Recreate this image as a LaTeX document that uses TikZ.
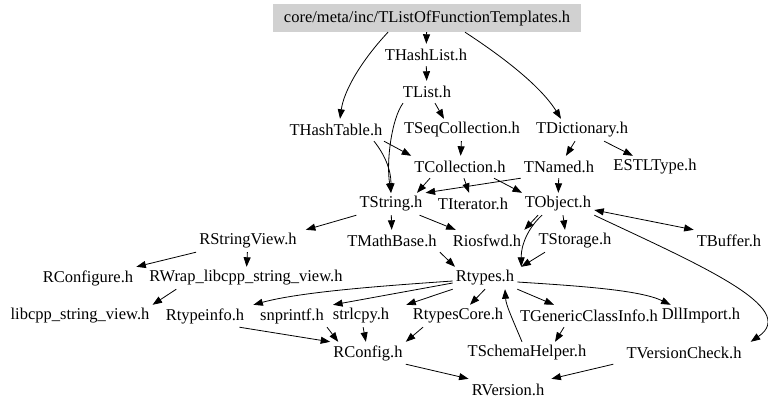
\documentclass[tikz,border=0pt]{standalone}
\usepackage{fontspec}
\setmainfont{Liberation Serif}
\usetikzlibrary{arrows.meta}

\tikzset{
  >={Triangle[length=9.5pt,width=7pt]},
  hfile/.style={inner xsep=3pt, inner ysep=0pt, minimum height=22pt, font=\rmfamily\fontsize{16.5}{18}\selectfont},
  rootfile/.style={hfile, fill=black!18, minimum width=308pt, minimum height=28pt},
  incl/.style={->, line width=0.8pt},
}

\begin{document}
\begin{tikzpicture}[x=1pt,y=-1pt]
   \useasboundingbox (0,0) rectangle (768,409);

   \node[rootfile] (root) at (427,18) {core/meta/inc/TListOfFunctionTemplates.h};
   \node[hfile] (THashList) at (426,55) {THashList.h};
   \node[hfile] (TList) at (427,92) {TList.h};
   \node[hfile] (THashTable) at (336,130) {THashTable.h};
   \node[hfile] (TSeqCollection) at (462,130) {TSeqCollection.h};
   \node[hfile] (TDictionary) at (582,130) {TDictionary.h};
   \node[hfile] (TCollection) at (460,167) {TCollection.h};
   \node[hfile] (TNamed) at (559,167) {TNamed.h};
   \node[hfile] (ESTLType) at (655,167) {ESTLType.h};
   \node[hfile] (TString) at (391,204) {TString.h};
   \node[hfile] (TIterator) at (473,204) {TIterator.h};
   \node[hfile] (TObject) at (558,204) {TObject.h};
   \node[hfile] (RStringView) at (248,241) {RStringView.h};
   \node[hfile] (TMathBase) at (392,241) {TMathBase.h};
   \node[hfile] (Riosfwd) at (487,241) {Riosfwd.h};
   \node[hfile] (TStorage) at (575,241) {TStorage.h};
   \node[hfile] (TBuffer) at (729,241) {TBuffer.h};
   \node[hfile] (RConfigure) at (88,278) {RConfigure.h};
   \node[hfile] (RWrap) at (246,278) {RWrap\_libcpp\_string\_view.h};
   \node[hfile] (Rtypes) at (485,278) {Rtypes.h};
   \node[hfile] (libcpp) at (80,316) {libcpp\_string\_view.h};
   \node[hfile] (Rtypeinfo) at (205,316) {Rtypeinfo.h};
   \node[hfile] (snprintf) at (292,316) {snprintf.h};
   \node[hfile] (strlcpy) at (361,316) {strlcpy.h};
   \node[hfile] (RtypesCore) at (458,316) {RtypesCore.h};
   \node[hfile] (TGenericClassInfo) at (589,316) {TGenericClassInfo.h};
   \node[hfile] (DllImport) at (701,316) {DllImport.h};
   \node[hfile] (RConfig) at (368,353) {RConfig.h};
   \node[hfile] (TSchemaHelper) at (527,353) {TSchemaHelper.h};
   \node[hfile] (TVersionCheck) at (684,353) {TVersionCheck.h};
   \node[hfile] (RVersion) at (508,390) {RVersion.h};

   % top part
   \draw[incl] (root) -- (THashList);
   \draw[incl] ([xshift=-39pt]root.south) .. controls (362,60) and (344,90) .. ([xshift=4pt]THashTable.north);
   \draw[incl] ([xshift=38pt]root.south) .. controls (500,55) and (540,85) .. ([xshift=-21pt]TDictionary.north);
   \draw[incl] (THashList) -- (TList);
   \draw[incl] ([xshift=8pt]TList.south) -- ([xshift=-18pt]TSeqCollection.north);
   \draw[incl] ([xshift=-24pt]TList.south) .. controls (392,118) and (386,160) .. (TString.north);
   \draw[incl] ([xshift=38pt]THashTable.south) .. controls (385,155) and (391,170) .. (TString.north);
   \draw[incl] ([xshift=48pt]THashTable.south) -- (TCollection.north west);
   \draw[incl] (TSeqCollection) -- (TCollection);
   \draw[incl] (TDictionary) -- (TNamed);
   \draw[incl] (TDictionary) -- (ESTLType);

   % middle part
   \draw[incl] ([xshift=-30pt]TCollection.south) -- ([xshift=26pt]TString.north);
   \draw[incl] (TCollection) -- (TIterator);
   \draw[incl] ([xshift=34pt]TCollection.south) -- ([xshift=-36pt]TObject.north);
   \draw[incl] (TNamed.south west) -- (TString.north east);
   \draw[incl] (TNamed) -- (TObject);
   \draw[incl] (TString.south west) -- ([xshift=6pt]RStringView.north east);
   \draw[incl] (TString) -- (TMathBase);
   \draw[incl] ([xshift=-6pt]TString.south east) -- ([xshift=6pt]Riosfwd.north west);
   \draw[incl] ([xshift=-20pt]TObject.south) -- (Riosfwd.north east);
   \draw[incl] ([xshift=-16pt]TObject.south) .. controls (528,228) and (521,245) .. ([xshift=4pt]Rtypes.north east);
   \draw[incl] ([xshift=5pt]TObject.south) -- ([xshift=-10pt]TStorage.north);
   \draw[<->, line width=0.8pt] ([yshift=-6pt]TObject.east) -- (TBuffer.north west);
   \draw[incl] (TObject.south east) .. controls (700,265) and (800,308) .. ([xshift=6pt]TVersionCheck.north east);
   \draw[incl] (TMathBase.south east) -- ([xshift=-30pt]Rtypes.north);
   \draw[incl] ([xshift=-30pt]TStorage.south) -- ([xshift=4pt]Rtypes.north east);
   \draw[incl] (RStringView.south west) -- (RConfigure.north east);
   \draw[incl] (RStringView) -- (RWrap);
   \draw[incl] ([xshift=30pt]RWrap.south west) -- (libcpp.north east);

   % lower part
   \draw[incl] ([yshift=-3pt]Rtypes.west) .. controls (380,286) and (300,292) .. ([xshift=6pt]Rtypeinfo.north east);
   \draw[incl] ([yshift=-5pt]Rtypes.west) -- ([xshift=6pt]snprintf.north east);
   \draw[incl] (Rtypes.south west) -- ([xshift=14pt]strlcpy.north east);
   \draw[incl] (Rtypes.south) -- ([xshift=12pt]RtypesCore.north);
   \draw[incl] (Rtypes.south east) -- ([xshift=-35pt]TGenericClassInfo.north);
   \draw[incl] ([yshift=-4pt]Rtypes.east) .. controls (580,286) and (640,290) .. ([xshift=12pt]DllImport.north west);
   \draw[incl] ([xshift=-5pt]TSchemaHelper.north) .. controls (512,318) and (506,305) .. ([xshift=20pt]Rtypes.south);
   \draw[incl] ([xshift=-25pt]TGenericClassInfo.south) -- ([xshift=28pt]TSchemaHelper.north);
   \draw[incl] ([xshift=-8pt]Rtypeinfo.south east) -- (RConfig.north west);
   \draw[incl] (snprintf.south east) -- ([xshift=8pt]RConfig.north west);
   \draw[incl] (strlcpy) -- (RConfig);
   \draw[incl] ([xshift=-35pt]RtypesCore.south) -- (RConfig.north east);
   \draw[incl] (RConfig.south east) -- (RVersion.north west);
   \draw[incl] ([xshift=-10pt]TVersionCheck.south west) -- ([xshift=4pt]RVersion.north east);

\end{tikzpicture}
\end{document}
